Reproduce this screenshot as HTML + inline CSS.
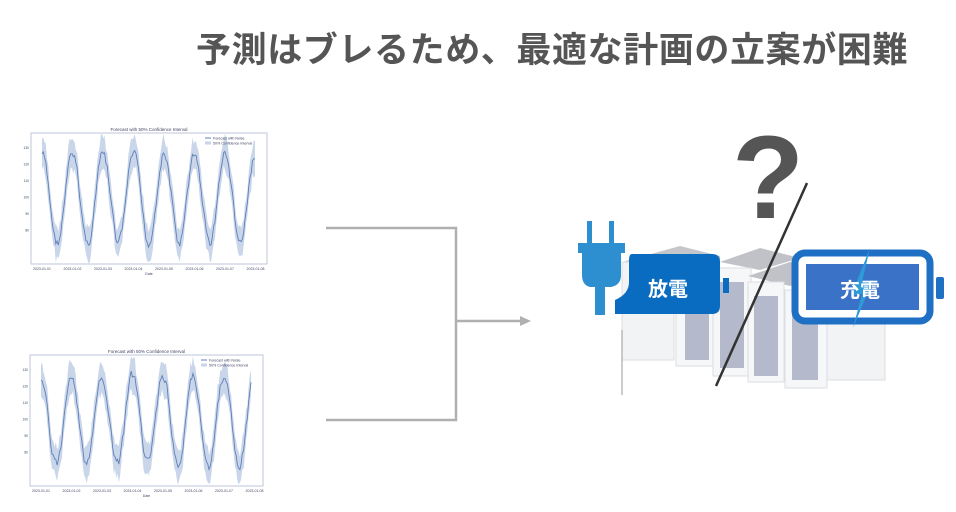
<!DOCTYPE html>
<html><head><meta charset="utf-8">
<style>
html,body{margin:0;padding:0;background:#fff;}
body{width:956px;height:512px;position:relative;overflow:hidden;font-family:"Liberation Sans","Noto Sans CJK JP",sans-serif;}
.title{position:absolute;left:196px;top:22px;font-size:35px;font-weight:bold;color:#555;letter-spacing:0.6px;white-space:nowrap;font-family:"Liberation Sans","Noto Sans CJK JP",sans-serif;}
svg{position:absolute;left:0;top:0;}
</style></head><body>
<div class="title">予測はブレるため、最適な計画の立案が困難</div>
<svg id="s" width="956" height="512" viewBox="0 0 956 512">
 <g stroke="#b0b0b0" stroke-width="2.5" fill="none">
  <polyline points="326,228 456,228 456,420 326,420"/>
  <line x1="456" y1="321" x2="522" y2="321"/>
 </g>
 <polygon points="531,321 520,316 520,326" fill="#b0b0b0"/>

 <g>
  <polygon points="622,262 680,246 720,256 720,262" fill="#c4c6cc"/>
  <rect x="622" y="262" width="52" height="98" fill="#f2f3f5" stroke="#dcdee2"/>
  <rect x="676" y="258" width="40" height="108" fill="#f6f7f9" stroke="#dcdee2"/>
  <polygon points="720,262 760,248 800,258 760,270" fill="#c0c2c8"/>
  <rect x="713" y="268" width="38" height="108" fill="#f6f7f9" stroke="#dcdee2"/>
  <rect x="720" y="282" width="24" height="86" fill="#b4bacb"/>
  <polygon points="748,276 790,262 830,272 790,286" fill="#c0c2c8"/>
  <rect x="748" y="282" width="36" height="100" fill="#f6f7f9" stroke="#dcdee2"/>
  <rect x="754" y="296" width="24" height="80" fill="#b4bacb"/>
  <rect x="785" y="290" width="42" height="98" fill="#f6f7f9" stroke="#dcdee2"/>
  <rect x="792" y="310" width="26" height="70" fill="#b4bacb"/>
  <rect x="827" y="300" width="58" height="80" fill="#f2f3f5" stroke="#dcdee2"/>
  <rect x="685" y="300" width="24" height="60" fill="#b4bacb"/>
 </g>
 <line x1="622" y1="330" x2="622" y2="395" stroke="#999" stroke-width="1"/>

 <g fill="#2e8fd0">
  <rect x="587" y="221" width="5" height="22"/>
  <rect x="609" y="221" width="5" height="22"/>
  <rect x="578" y="243" width="47" height="10"/>
  <path d="M582,253 h39 v22 q0,10 -10,12 h-21 q-8,-2 -8,-12z"/>
  <rect x="595" y="285" width="10" height="30"/>
 </g>
 <path d="M632,254 h80 q8,0 8,8 v44 q0,8 -8,8 h-97 v-14 q14,-6 14,-18 v-22 q0,-6 3,-6z" fill="#0a6cc0"/>
 <rect x="723" y="278" width="6" height="15" fill="#0a6cc0"/>
 <text x="668" y="296" font-size="20" font-weight="bold" fill="#fff" text-anchor="middle" font-family="Liberation Sans,Noto Sans CJK JP,sans-serif">放電</text>

 <text x="768" y="218" font-size="118" font-weight="bold" fill="#555" text-anchor="middle" font-family="Liberation Sans,sans-serif">?</text>
 <line x1="807" y1="183" x2="716" y2="386" stroke="#333" stroke-width="2.5"/>

 <rect x="795" y="253" width="135" height="68" rx="10" fill="#fff" stroke="#1f6fc4" stroke-width="7"/>
 <rect x="806" y="264" width="113" height="46" fill="#3a72c8"/>
 <rect x="936" y="277" width="8" height="22" rx="2" fill="#1f6fc4"/>
 <polygon points="870,248 851,296 862,294 853,328 873,280 862,282" fill="#2e9ad8"/>
 <text x="860" y="297" font-size="20" font-weight="bold" fill="#fff" text-anchor="middle" font-family="Liberation Sans,Noto Sans CJK JP,sans-serif">充電</text>

 <g id="c1"></g><g id="c2"></g>
</svg>
<script>
function chart(gid,x0,y0,x1,y1,seed){
 var s=seed;function r(){s=(s*9301+49297)%233280;return s/233280;}
 var g=document.getElementById(gid);
 var h='';
 h+='<text x="'+((x0+x1)/2)+'" y="'+(y0-2)+'" font-size="4.5" fill="#446" text-anchor="middle">Forecast with 50% Confidence Interval</text>';
 h+='<rect x="'+x0+'" y="'+y0+'" width="'+(x1-x0)+'" height="'+(y1-y0)+'" fill="#fff" stroke="#b8c4d8" stroke-width="0.8"/>';
 var dx0=x0+11,dx1=x1-12,N=170,pts=[],up=[],lo=[];
 var mid=(y0+y1)/2,amp=(y1-y0)*0.34;
 var v=0;
 for(var i=0;i<=N;i++){var x=dx0+(dx1-dx0)*i/N;var t=(x-dx0)/30.5;
  v=0.5*v+(r()-0.5)*9;
  var y=mid-amp*Math.cos(2*Math.PI*t)+v;
  pts.push(x.toFixed(1)+','+y.toFixed(1));
  var w=12+r()*7;
  up.push(x.toFixed(1)+','+Math.max(y0+1,y-w).toFixed(1));lo.unshift(x.toFixed(1)+','+Math.min(y1-1,y+w).toFixed(1));}
 h+='<polygon points="'+up.join(' ')+' '+lo.join(' ')+'" fill="#c9d6ea"/>';
 h+='<polyline points="'+pts.join(' ')+'" fill="none" stroke="#5f7fb8" stroke-width="0.9"/>';
 h+='<rect x="'+x0+'" y="'+y0+'" width="'+(x1-x0)+'" height="'+(y1-y0)+'" fill="none" stroke="#b8c4d8" stroke-width="0.8"/>';
 for(var k=0;k<8;k++){var xx=dx0+k*30.5;h+='<text x="'+xx+'" y="'+(y1+6)+'" font-size="3.5" fill="#446" text-anchor="middle">2023-01-0'+(k+1)+'</text>';}
 h+='<text x="'+((x0+x1)/2)+'" y="'+(y1+11)+'" font-size="3.5" fill="#446" text-anchor="middle">Date</text>';
 h+='<line x1="'+(x1-62)+'" y1="'+(y0+5)+'" x2="'+(x1-56)+'" y2="'+(y0+5)+'" stroke="#5f7fb8"/><text x="'+(x1-54)+'" y="'+(y0+6.5)+'" font-size="3.6" fill="#446">Forecast with Noise</text>';
 h+='<rect x="'+(x1-62)+'" y="'+(y0+8.5)+'" width="6" height="3" fill="#c9d6ea"/><text x="'+(x1-54)+'" y="'+(y0+11.5)+'" font-size="3.6" fill="#446">50% Confidence Interval</text>';
 for(var j=0;j<6;j++){var yy=y0+16+j*16.5;h+='<text x="'+(x0-2)+'" y="'+yy+'" font-size="3.3" fill="#446" text-anchor="end">'+(130-j*10)+'</text>';}
 g.innerHTML=h;
}
chart('c1',31,133,267,264,7);
chart('c2',30,355,263,486,19);
</script>
</body></html>
